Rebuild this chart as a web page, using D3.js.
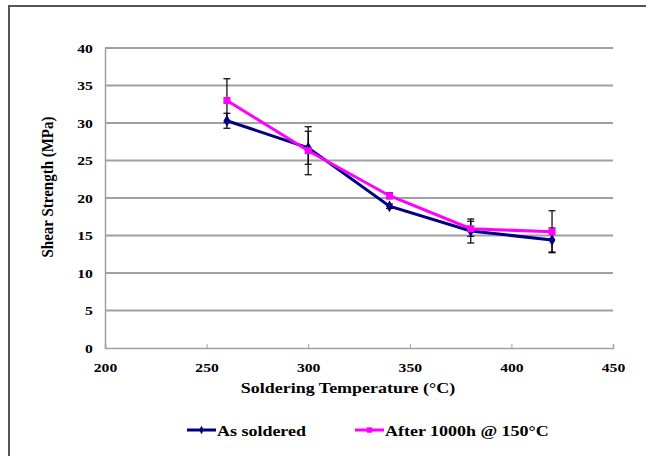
<!DOCTYPE html>
<html><head><meta charset="utf-8">
<script src="https://cdn.jsdelivr.net/npm/d3@7"></script>
<style>body{margin:0;background:#fff;}svg{display:block;}</style>
</head><body>
<script>
const temps = [260, 300, 340, 380, 420];
const asSoldered = [30.3, 26.7, 18.9, 15.6, 14.4];
const asSolderedErr = [1.0, 2.2, 0.3, 1.6, 1.6];
const aged = [33.0, 26.3, 20.3, 15.9, 15.5];
const agedErr = [2.9, 3.2, 0.4, 1.0, 2.8];
const xTicks = [200, 250, 300, 350, 400, 450];
const yTicks = [0, 5, 10, 15, 20, 25, 30, 35, 40];
const seriesNames = ["As soldered", "After 1000h @ 150°C"];
const seriesColors = ["#000080", "#FF00FF"];

const W = 646, H = 456;
const S = 1.16; // horizontal stretch of the original picture's text
const svg = d3.select("body").append("svg").attr("width", W).attr("height", H);
const font = "'Liberation Serif', Tinos, 'Times New Roman', 'DejaVu Serif', serif";

svg.append("rect").attr("x", 9).attr("y", 6).attr("width", W).attr("height", H)
  .attr("fill", "none").attr("stroke", "#555").attr("stroke-width", 2);

const x = d3.scaleLinear().domain([200, 450]).range([105, 613]);
const y = d3.scaleLinear().domain([0, 40]).range([348, 48]);

svg.append("g").selectAll("line").data(yTicks.filter(d => d > 0)).join("line")
  .attr("x1", x(200)).attr("x2", x(450)).attr("y1", d => y(d)).attr("y2", d => y(d))
  .attr("stroke", "#a0a0a0").attr("stroke-width", 1.8);

const yAxis = svg.append("g").attr("transform", `translate(${x(200)},0)`)
  .call(d3.axisLeft(y).tickValues(yTicks).tickSize(0).tickPadding(10.5));
yAxis.attr("font-family", null);
yAxis.select(".domain").attr("stroke", "#a0a0a0").attr("stroke-width", 1.5);
yAxis.selectAll("text").style("font-family", font).style("font-weight", "bold")
  .style("font-size", "13.5px").attr("fill", "#000").attr("transform", `scale(${S},1)`);

const xAxis = svg.append("g").attr("transform", `translate(0,${y(0)})`)
  .call(d3.axisBottom(x).tickValues(xTicks).tickSizeInner(-4).tickSizeOuter(-4).tickPadding(14.5));
xAxis.attr("font-family", null);
xAxis.select(".domain").attr("stroke", "#a0a0a0").attr("stroke-width", 1.5);
xAxis.selectAll(".tick line").attr("stroke", "#a0a0a0");
xAxis.selectAll("text").style("font-family", font).style("font-weight", "bold")
  .style("font-size", "13.5px").attr("fill", "#000").attr("transform", `scale(${S},1)`);

svg.append("text").attr("transform", `translate(348,393) scale(${S},1)`).attr("text-anchor", "middle")
  .style("font-family", font).style("font-weight", "bold").style("font-size", "15.5px")
  .text("Soldering Temperature (°C)");
svg.append("text").attr("transform", `translate(53,187) scale(${S},1) rotate(-90)`).attr("text-anchor", "middle")
  .style("font-family", font).style("font-weight", "bold").style("font-size", "15px")
  .text("Shear Strength (MPa)");

const series = [
  {vals: asSoldered, err: asSolderedErr, color: seriesColors[0], marker: "diamond"},
  {vals: aged, err: agedErr, color: seriesColors[1], marker: "square"}
];
const line = d3.line().x(d => x(d[0])).y(d => y(d[1]));

series.forEach(s => {
  const pts = temps.map((t, i) => [t, s.vals[i], s.err[i]]);
  const eb = svg.append("g").selectAll("g").data(pts).join("g");
  eb.append("line").attr("x1", d => x(d[0])).attr("x2", d => x(d[0]))
    .attr("y1", d => y(d[1] - d[2])).attr("y2", d => y(d[1] + d[2]))
    .attr("stroke", "#000").attr("stroke-width", 1.2);
  [-1, 1].forEach(sgn => {
    eb.append("line").attr("x1", d => x(d[0]) - 3.5).attr("x2", d => x(d[0]) + 3.5)
      .attr("y1", d => y(d[1] + sgn * d[2])).attr("y2", d => y(d[1] + sgn * d[2]))
      .attr("stroke", "#000").attr("stroke-width", 1.2);
  });
});

series.forEach(s => {
  const pts = temps.map((t, i) => [t, s.vals[i]]);
  svg.append("path").datum(pts).attr("d", line).attr("fill", "none")
    .attr("stroke", s.color).attr("stroke-width", 3);
  const sym = s.marker === "diamond" ? d3.symbolDiamond : d3.symbolSquare;
  const size = s.marker === "diamond" ? 40 : 50;
  svg.append("g").selectAll("path").data(pts).join("path")
    .attr("transform", d => `translate(${x(d[0])},${y(d[1])})`)
    .attr("d", d3.symbol(sym, size)).attr("fill", s.color);
});

const legX = [187, 355];
series.forEach((s, i) => {
  const g = svg.append("g").attr("transform", `translate(${legX[i]},430)`);
  g.append("line").attr("x1", 0).attr("x2", 29).attr("stroke", s.color).attr("stroke-width", 3);
  g.append("path").attr("transform", "translate(14.5,0)")
    .attr("d", d3.symbol(s.marker === "diamond" ? d3.symbolDiamond : d3.symbolSquare, s.marker === "diamond" ? 20 : 30))
    .attr("fill", s.color);
  g.append("text").attr("transform", `translate(30,5.5) scale(${S},1)`).style("font-family", font)
    .style("font-weight", "bold").style("font-size", "15.5px").text(seriesNames[i]);
});
</script>
</body></html>
